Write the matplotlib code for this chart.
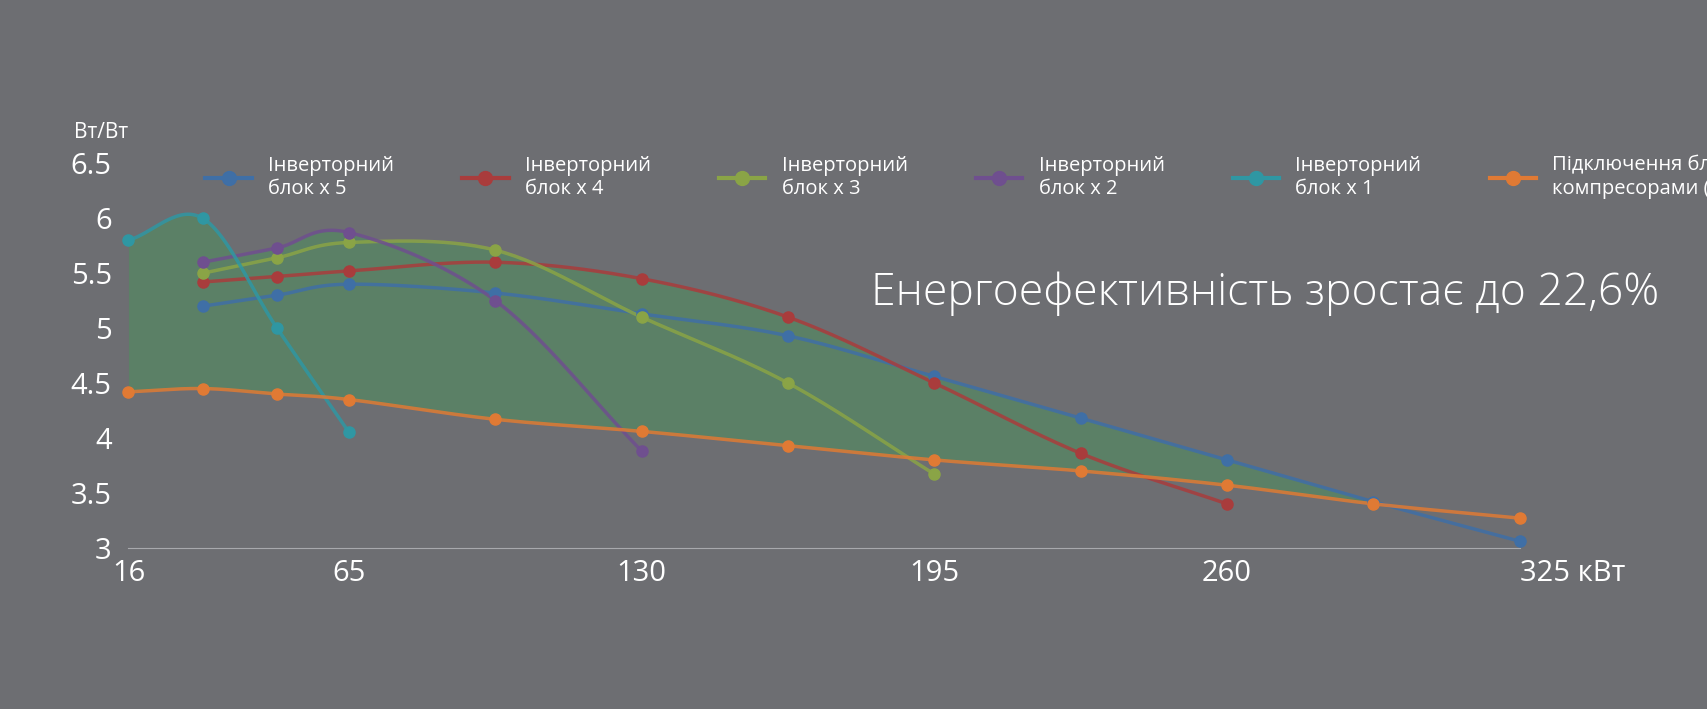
import numpy as np
import matplotlib.pyplot as plt
from matplotlib.lines import Line2D

plt.rcParams['font.family'] = ['Open Sans', 'DejaVu Sans']

# дані
x_all = [16, 32.5, 49, 65, 97.5, 130, 162.5, 195, 227.5, 260, 292.5, 325]
x_inv1 = [16, 32.5, 49, 65]
y_inv1 = [5.8, 6.0, 5.0, 4.05]
x_inv2 = [32.5, 49, 65, 97.5, 130]
y_inv2 = [5.6, 5.73, 5.87, 5.25, 3.88]
x_inv3 = [32.5, 49, 65, 97.5, 130, 162.5, 195]
y_inv3 = [5.5, 5.64, 5.78, 5.71, 5.1, 4.5, 3.67]
x_inv4 = [32.5, 49, 65, 97.5, 130, 162.5, 195, 227.5, 260]
y_inv4 = [5.42, 5.47, 5.52, 5.6, 5.45, 5.1, 4.5, 3.86, 3.4]
x_inv5 = [32.5, 49, 65, 97.5, 130, 162.5, 195, 227.5, 260, 292.5, 325]
y_inv5 = [5.2, 5.3, 5.4, 5.32, 5.13, 4.93, 4.56, 4.18, 3.8, 3.42, 3.06]
y_onoff = [4.42, 4.45, 4.4, 4.35, 4.17, 4.06, 3.93, 3.8, 3.7, 3.57, 3.4, 3.27]

labels = ['Інверторний\nблок х 5', 'Інверторний\nблок х 4', 'Інверторний\nблок х 3',
          'Інверторний\nблок х 2', 'Інверторний\nблок х 1',
          'Підключення блоків з ON/OFF\nкомпресорами (постійні оберти)']
colors = ['#3f6fa6', '#a93c3c', '#8aa446', '#6f4f8f', '#2f97a3', '#e07a34']
x_ticks = [16, 65, 130, 195, 260, 325]

W, H = 1568, 651  # координати розмітки


def smooth(xs, ys, n=30):
    # catmull-rom для плавної лінії
    xs = np.asarray(xs, float)
    ys = np.asarray(ys, float)
    px = np.concatenate([[2 * xs[0] - xs[1]], xs, [2 * xs[-1] - xs[-2]]])
    py = np.concatenate([[2 * ys[0] - ys[1]], ys, [2 * ys[-1] - ys[-2]]])
    outx, outy = [], []
    for i in range(1, len(px) - 2):
        t = np.linspace(0, 1, n, endpoint=False)
        for arr, out in ((px, outx), (py, outy)):
            p0, p1, p2, p3 = arr[i - 1], arr[i], arr[i + 1], arr[i + 2]
            out.extend(0.5 * (2 * p1 + (-p0 + p2) * t + (2 * p0 - 5 * p1 + 4 * p2 - p3) * t ** 2
                              + (-p0 + 3 * p1 - 3 * p2 + p3) * t ** 3))
    outx.append(xs[-1])
    outy.append(ys[-1])
    return np.array(outx), np.array(outy)


bg = '#6d6e72'
fig = plt.figure(figsize=(17.07, 7.09), dpi=100, facecolor=bg)
ax = fig.add_axes([118 / W, 1 - 503 / H, 1278 / W, 353 / H])
ax.set_facecolor(bg)

series = [(x_inv5, y_inv5), (x_inv4, y_inv4), (x_inv3, y_inv3), (x_inv2, y_inv2), (x_inv1, y_inv1),
          (x_all, y_onoff)]

# заливка між верхньою огинаючою та ON/OFF
grid = np.linspace(16, 325, 1500)
upper = np.full_like(grid, -np.inf)
for xs, ys in series[:5]:
    sx, sy = smooth(xs, ys)
    yi = np.interp(grid, sx, sy, left=-np.inf, right=-np.inf)
    upper = np.maximum(upper, yi)
ox, oy = smooth(x_all, y_onoff)
lower = np.interp(grid, ox, oy)
upper = np.maximum(upper, lower)
ax.fill_between(grid, lower, upper, color='#5b8066', lw=0, zorder=1)

for (xs, ys), c in zip(series, colors):
    sx, sy = smooth(xs, ys)
    ax.plot(sx, sy, color=c, lw=2.5, alpha=0.85, zorder=3, clip_on=False)
    ax.plot(xs, ys, 'o', color=c, ms=8, zorder=4, clip_on=False)

ax.set_xlim(16, 325)
ax.set_ylim(3, 6.5)
ax.set_xticks(x_ticks)
ax.set_xticklabels(['16', '65', '130', '195', '260', '325 кВт'])
ax.set_yticks([3, 3.5, 4, 4.5, 5, 5.5, 6, 6.5])
ax.set_yticklabels(['3', '3.5', '4', '4.5', '5', '5.5', '6', '6.5'])
ax.tick_params(colors='white', labelsize=21, length=0, pad=8)
ax.tick_params(axis='y', pad=12)
lab = ax.get_xticklabels()[-1]
lab.set_horizontalalignment('left')
lab.set_x(319)
for s in ['top', 'right', 'left']:
    ax.spines[s].set_visible(False)
ax.spines['bottom'].set_color('#a8a9ad')
fig.text(68 / W, 1 - 122 / H, 'Вт/Вт', color='white', fontsize=15, va='center')

fig.text(800 / W, 1 - 270 / H, 'Енергоефективність зростає до 22,6%', color='white',
         fontsize=32, va='center', fontweight='light')

handles = [Line2D([0], [0], color=c, lw=3, marker='o', ms=10) for c in colors]
leg = fig.legend(handles, labels, ncol=6, loc='upper left', bbox_to_anchor=(172 / W, 1 - 126 / H),
                 frameon=False, fontsize=14.5, handlelength=2.3, columnspacing=3.4, labelspacing=0.2,
                 handletextpad=0.8)
for t in leg.get_texts():
    t.set_color('white')

fig.savefig('out.png', dpi=100, facecolor=bg)
